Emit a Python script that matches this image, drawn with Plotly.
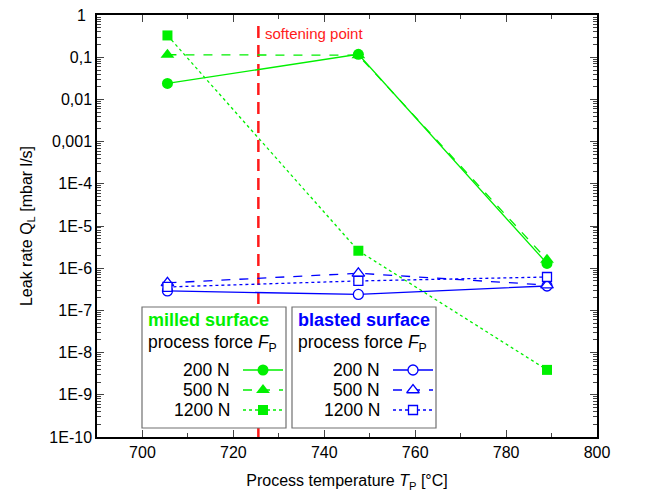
import plotly.graph_objects as go
import numpy as np

# ---------------- data ----------------
temps = [705.5, 747.5, 789]
milled_200 = [0.024, 0.118, 1.3e-6]
milled_500 = [0.115, 0.112, 1.6e-6]
milled_1200 = [0.33, 2.6e-6, 3.9e-9]
blasted_200 = [2.9e-7, 2.4e-7, 3.8e-7]
blasted_500 = [4.5e-7, 7.6e-7, 4.0e-7]
blasted_1200 = [3.6e-7, 5.0e-7, 6.2e-7]
softening_T = 725.5
force_labels = ["200 N", "500 N", "1200 N"]
ytick_vals = [10.0 ** e for e in range(0, -11, -1)]
ytick_text = ["1", "0,1", "0,01", "0,001", "1E-4", "1E-5", "1E-6", "1E-7", "1E-8", "1E-9", "1E-10"]
xtick_vals = [700, 720, 740, 760, 780, 800]

GREEN = "#00F000"
BLUE = "#0000FF"
RED = "#FF1A1A"
FONT = "Liberation Sans, Arial, sans-serif"

fig = go.Figure()

symbols = ["circle", "triangle-up", "square"]
dashes = ["solid", "dash", "dot"]
msizes = [11, 12, 10]

for vals, sym, dsh, ms in zip([milled_200, milled_500, milled_1200], symbols, dashes, msizes):
    fig.add_trace(go.Scatter(x=temps, y=vals, mode="lines+markers",
                             line=dict(color=GREEN, width=1.3, dash=dsh),
                             marker=dict(symbol=sym, size=ms, color=GREEN, line=dict(width=0)),
                             showlegend=False))
for vals, sym, dsh, ms in zip([blasted_200, blasted_500, blasted_1200], symbols, dashes, msizes):
    fig.add_trace(go.Scatter(x=temps, y=vals, mode="lines+markers",
                             line=dict(color=BLUE, width=1.3, dash=dsh),
                             marker=dict(symbol=sym, size=ms - 1, color="white", line=dict(color=BLUE, width=1.3)),
                             showlegend=False))

# softening point line
fig.add_shape(type="line", xref="x", yref="paper", x0=softening_T, x1=softening_T, y0=0, y1=0.985,
              line=dict(color=RED, width=2.5, dash="12px,7px"), layer="below")
fig.add_annotation(x=softening_T + 1.0, y=np.log10(0.37), xref="x", yref="y", text="softening point",
                   showarrow=False, xanchor="left", yanchor="middle",
                   font=dict(family=FONT, size=15, color=RED))

# ---------------- manual legends (pixel overlay axes) ----------------
boxes = [
    dict(x0=142, x1=286, title="milled surface", color=GREEN, txt_r=232, l0=243, l1=283, filled=True),
    dict(x0=292, x1=436, title="blasted surface", color=BLUE, txt_r=382, l0=393, l1=433, filled=False),
]
rows_y = [370, 390, 410]
for b in boxes:
    fig.add_shape(type="rect", xref="x2", yref="y2", x0=b["x0"], x1=b["x1"], y0=307, y1=428,
                  line=dict(color="#707070", width=1.2), fillcolor="white", layer="below")
    fig.add_annotation(x=b["x0"] + 4, y=320, xref="x2", yref="y2", text="<b>" + b["title"] + "</b>",
                       showarrow=False, xanchor="left", yanchor="middle",
                       font=dict(family=FONT, size=18, color=b["color"]))
    fig.add_annotation(x=b["x0"] + 4, y=343, xref="x2", yref="y2",
                       text="process force <i>F</i><sub>P</sub>",
                       showarrow=False, xanchor="left", yanchor="middle",
                       font=dict(family=FONT, size=17.5, color="black"))
    for lab, ry, sym, dsh, ms in zip(force_labels, rows_y, symbols, dashes, msizes):
        fig.add_annotation(x=b["txt_r"], y=ry, xref="x2", yref="y2", text=lab,
                           showarrow=False, xanchor="right", yanchor="middle",
                           font=dict(family=FONT, size=17.5, color="black"))
        fig.add_trace(go.Scatter(x=[b["l0"], b["l1"]], y=[ry, ry], xaxis="x2", yaxis="y2", mode="lines",
                                 line=dict(color=b["color"], width=1.3, dash=dsh),
                                 showlegend=False, hoverinfo="skip"))
        if b["filled"]:
            mk = dict(symbol=sym, size=ms, color=b["color"], line=dict(width=0))
        else:
            mk = dict(symbol=sym, size=ms - 1, color="white", line=dict(color=b["color"], width=1.3))
        fig.add_trace(go.Scatter(x=[(b["l0"] + b["l1"]) / 2], y=[ry], xaxis="x2", yaxis="y2", mode="markers",
                                 marker=mk, showlegend=False, hoverinfo="skip"))

# top tick label "1" (drawn as annotation since it sits at the very edge of the figure)
fig.add_annotation(x=0, xref="paper", y=np.log10(ytick_vals[0]), yref="y", text=ytick_text[0],
                   showarrow=False, xanchor="right", yanchor="middle", xshift=-9,
                   font=dict(family=FONT, size=16, color="black"))
axis_ticktext = [""] + ytick_text[1:]

minor_y = [m * 10.0 ** e for e in range(-10, 0) for m in range(2, 10)]

fig.update_layout(
    width=646, height=498,
    margin=dict(l=89, r=57, t=7, b=69, autoexpand=False),
    paper_bgcolor="white", plot_bgcolor="white",
    font=dict(family=FONT, size=16, color="black"),
    xaxis=dict(range=[690, 800], tickvals=xtick_vals, ticks="inside", ticklen=7, tickwidth=1.3,
               showline=True, linecolor="black", linewidth=1.5, mirror="ticks", showgrid=False,
               zeroline=False, tickfont=dict(size=16), automargin=False,
               minor=dict(tickvals=[710, 730, 750, 770, 790], ticks="inside", ticklen=4, tickwidth=1.2),
               title=dict(text="Process temperature <i>T</i><sub>P</sub> [°C]", font=dict(size=16), standoff=15)),
    yaxis=dict(type="log", range=[-10, 0.003], tickvals=ytick_vals, ticktext=axis_ticktext, ticks="inside",
               ticklen=7, tickwidth=1.3, showline=True, linecolor="black", linewidth=1.5, mirror="ticks",
               showgrid=False, zeroline=False, tickfont=dict(size=16), automargin=False,
               minor=dict(tickvals=minor_y, ticks="inside", ticklen=4, tickwidth=1.0),
               title=dict(text="Leak rate Q<sub>L</sub> [mbar l/s]", font=dict(size=16), standoff=13)),
    xaxis2=dict(overlaying="x", anchor="y2", range=[97, 597], visible=False, fixedrange=True),
    yaxis2=dict(overlaying="y", anchor="x2", range=[437, 15], visible=False, fixedrange=True),
)

fig.write_html("out.html")
